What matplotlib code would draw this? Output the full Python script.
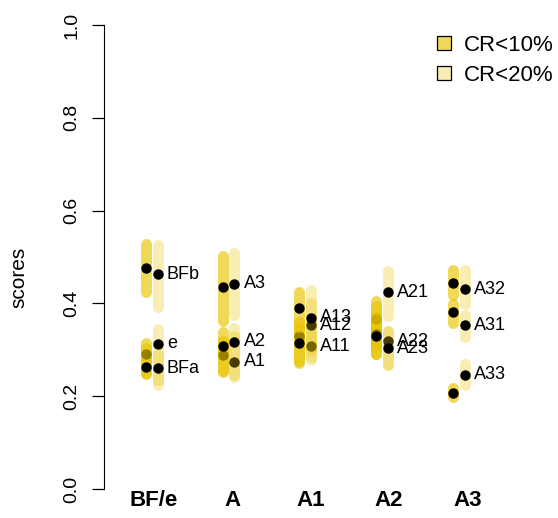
import numpy as np
import matplotlib.pyplot as plt
from matplotlib.patches import Patch

plt.rcParams['font.family'] = ['Liberation Sans', 'DejaVu Sans']

# =========================
# DATA
# =========================
groups = ["BF/e", "A", "A1", "A2", "A3"]

# items per group, in drawing order
items = [
    ["e", "BFa", "BFb"],
    ["A1", "A2", "A3"],
    ["A11", "A12", "A13"],
    ["A21", "A22", "A23"],
    ["A31", "A32", "A33"],
]

# CR<10% : score and interval
score10 = [
    [0.291, 0.263, 0.476],
    [0.289, 0.308, 0.435],
    [0.330, 0.315, 0.390],
    [0.366, 0.334, 0.330],
    [0.382, 0.444, 0.207],
]
low10 = [
    [0.250, 0.247, 0.425],
    [0.252, 0.255, 0.362],
    [0.272, 0.275, 0.350],
    [0.310, 0.290, 0.290],
    [0.358, 0.418, 0.199],
]
high10 = [
    [0.315, 0.305, 0.528],
    [0.320, 0.338, 0.503],
    [0.360, 0.345, 0.424],
    [0.405, 0.395, 0.370],
    [0.398, 0.471, 0.218],
]

# CR<20% : score and interval
score20 = [
    [0.313, 0.260, 0.463],
    [0.274, 0.317, 0.442],
    [0.308, 0.353, 0.369],
    [0.424, 0.318, 0.303],
    [0.353, 0.431, 0.246],
]
low20 = [
    [0.235, 0.225, 0.393],
    [0.242, 0.245, 0.376],
    [0.279, 0.285, 0.300],
    [0.372, 0.268, 0.268],
    [0.327, 0.398, 0.225],
]
high20 = [
    [0.345, 0.290, 0.525],
    [0.330, 0.348, 0.508],
    [0.340, 0.400, 0.430],
    [0.470, 0.340, 0.340],
    [0.375, 0.471, 0.270],
]

yticks = [0.0, 0.2, 0.4, 0.6, 0.8, 1.0]

# =========================
# STYLE
# =========================
base = (233/255, 196/255, 0)
col10 = base + (0.65,)
col20 = base + (0.30,)
off10, off20 = -0.08, 0.075
bar_lw = 7.9
pt_size = 7.5

fig = plt.figure(figsize=(5.58, 5.18), dpi=100)
ax = fig.add_axes([104/558, 28/518, 444/558, (490 - 6.4)/518])
ax.set_xlim(-0.626, 5.163)
ax.set_ylim(-0.002, 1.04)

# =========================
# INTERVALS + POINTS
# =========================
for g in range(len(groups)):
    for k, name in enumerate(items[g]):
        x10 = g + off10
        x20 = g + off20
        ax.plot([x10, x10], [low10[g][k], high10[g][k]], color=col10,
                lw=bar_lw, solid_capstyle='round')
        ax.plot(x10, score10[g][k], 'o', color='black', ms=pt_size, mew=0)
        ax.plot([x20, x20], [low20[g][k], high20[g][k]], color=col20,
                lw=bar_lw, solid_capstyle='round')
        ax.plot(x20, score20[g][k], 'o', color='black', ms=pt_size, mew=0)
        ax.text(x20 + 0.12, score20[g][k], name, fontsize=13,
                ha='left', va='center')

# =========================
# AXES
# =========================
for s in ['top', 'right', 'bottom']:
    ax.spines[s].set_visible(False)
ax.spines['left'].set_bounds(0, 1)
ax.set_yticks(yticks)
ax.set_yticklabels([f"{t:.1f}" for t in yticks], rotation=90, va='center',
                   fontsize=14)
ax.tick_params(axis='y', length=9, width=0.9, pad=8)

# group names sit on a slightly wider spacing than the columns
label_pos = np.arange(len(groups)) * 1.024 + 0.02
ax.set_xticks(label_pos)
ax.set_xticklabels(groups, fontsize=16, fontweight='bold')
ax.tick_params(axis='x', length=0, pad=0)

ax.set_ylabel("scores", fontsize=15)
ax.yaxis.set_label_coords(-0.171, 0.44)

handles = [Patch(facecolor=col10, edgecolor='black', lw=0.9),
           Patch(facecolor=col20, edgecolor='black', lw=0.9)]
fig.legend(handles, ["CR<10%", "CR<20%"], loc='upper left',
           bbox_to_anchor=(437/558, 1 - 35/518), frameon=False, fontsize=16,
           handlelength=0.65, handleheight=0.55, handletextpad=0.55,
           borderpad=0, borderaxespad=0, labelspacing=0.4)

fig.savefig("out.png", dpi=100)
